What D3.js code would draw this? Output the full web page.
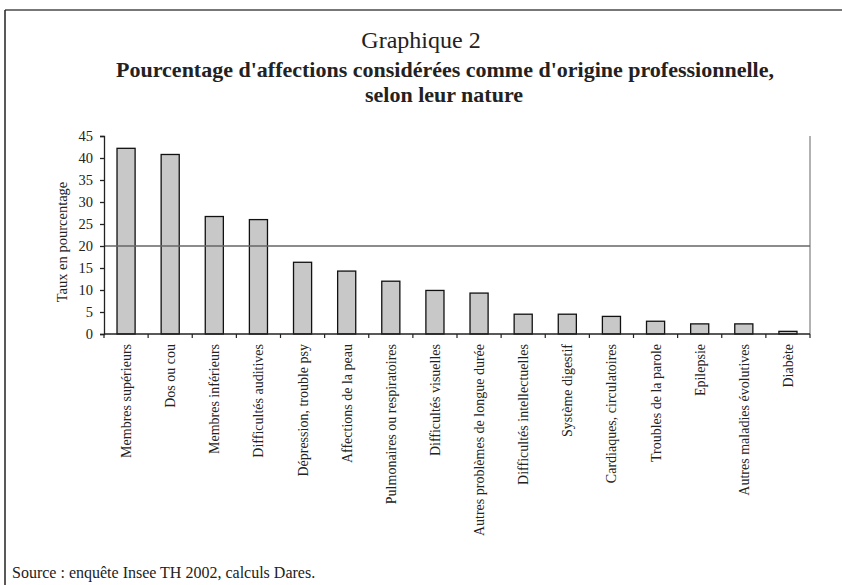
<html lang='en'>
    <head>
        <meta charset='utf-8'>
        <title>Graphique 2</title>
        <script src="https://d3js.org/d3.v7.min.js"></script>
        <style>
            body { margin: 0; background: #fff; }
            text { font-family: 'Liberation Serif', 'Times New Roman', serif; fill: #222; }
        </style>
    </head>
    <body>
        <script>
            var width = 842;
            var height = 585;

            // data
            var categories = ["Membres supérieurs", "Dos ou cou", "Membres inférieurs", "Difficultés auditives",
                              "Dépression, trouble psy", "Affections de la peau", "Pulmonaires ou respiratoires",
                              "Difficultés visuelles", "Autres problèmes de longue durée", "Difficultés intellectuelles",
                              "Système digestif", "Cardiaques, circulatoires", "Troubles de la parole", "Epilepsie",
                              "Autres maladies évolutives", "Diabète"];
            var rates = [42.2, 40.8, 26.7, 26.0, 16.3, 14.3, 12.0, 9.9, 9.3, 4.5, 4.5, 4.0, 2.9, 2.3, 2.3, 0.6];
            var yTicks = [0, 5, 10, 15, 20, 25, 30, 35, 40, 45];
            var refLine = 20;

            var margin = {top: 136, left: 104, right: 32, bottom: 251};

            var svg = d3.select('body')
                        .append('svg')
                        .attr('width', width)
                        .attr('height', height);

            // frame (top and left only)
            svg.append('line')
               .attr('x1', 5).attr('x2', width).attr('y1', 10).attr('y2', 10)
               .attr('stroke', '#777').attr('stroke-width', 2);
            svg.append('line')
               .attr('x1', 5).attr('x2', 5).attr('y1', 10).attr('y2', height)
               .attr('stroke', '#222').attr('stroke-width', 1.5);

            // titles
            svg.append('text')
               .attr('x', 421).attr('y', 48)
               .attr('text-anchor', 'middle')
               .style('font-size', '24px')
               .text('Graphique 2');
            svg.append('text')
               .attr('x', 445).attr('y', 77)
               .attr('text-anchor', 'middle')
               .style('font-size', '22px').style('font-weight', 'bold')
               .text("Pourcentage d'affections considérées comme d'origine professionnelle,");
            svg.append('text')
               .attr('x', 444).attr('y', 102)
               .attr('text-anchor', 'middle')
               .style('font-size', '22px').style('font-weight', 'bold')
               .text('selon leur nature');

            var x = d3.scaleBand()
                      .domain(categories)
                      .range([margin.left, width - margin.right])
                      .paddingInner(0.59)
                      .paddingOuter(0.295);

            var y = d3.scaleLinear()
                      .domain([0, 45])
                      .range([height - margin.bottom, margin.top]);

            // right border of the plot area
            svg.append('line')
               .attr('x1', width - margin.right).attr('x2', width - margin.right)
               .attr('y1', y(45)).attr('y2', y(0))
               .attr('stroke', '#999').attr('stroke-width', 1.5);

            // bars
            svg.selectAll('rect.bar')
               .data(rates)
               .enter()
               .append('rect')
               .attr('class', 'bar')
               .attr('x', function(d, i) { return x(categories[i]); })
               .attr('width', x.bandwidth())
               .attr('y', function(d) { return y(d); })
               .attr('height', function(d) { return y(0) - y(d); })
               .attr('fill', '#c8c8c8')
               .attr('stroke', '#111')
               .attr('stroke-width', 1.3);

            // 20% reference line
            svg.append('line')
               .attr('x1', margin.left).attr('x2', width - margin.right)
               .attr('y1', y(refLine)).attr('y2', y(refLine))
               .attr('stroke', '#666').attr('stroke-width', 1.5);

            // y axis
            var yAxis = svg.append('g')
                           .attr('transform', 'translate(' + margin.left + ',0)')
                           .call(d3.axisLeft(y).tickValues(yTicks).tickSize(4).tickPadding(7));
            yAxis.selectAll('text').style('font-size', '14.5px').style('font-family', "'Liberation Serif', serif");
            yAxis.selectAll('line, path').attr('stroke', '#222').attr('stroke-width', 1.3);

            // x axis with ticks on band boundaries
            var step = x.step();
            var boundaries = d3.range(categories.length + 1).map(function(i) { return margin.left + i * step; });
            svg.append('line')
               .attr('x1', margin.left).attr('x2', width - margin.right)
               .attr('y1', y(0)).attr('y2', y(0))
               .attr('stroke', '#222').attr('stroke-width', 1.5);
            svg.selectAll('line.xtick')
               .data(boundaries)
               .enter()
               .append('line')
               .attr('class', 'xtick')
               .attr('x1', function(d) { return d; }).attr('x2', function(d) { return d; })
               .attr('y1', y(0)).attr('y2', y(0) + 4)
               .attr('stroke', '#222').attr('stroke-width', 1.2);

            svg.selectAll('text.xlabel')
               .data(categories)
               .enter()
               .append('text')
               .attr('class', 'xlabel')
               .attr('transform', function(d) {
                   return 'translate(' + (x(d) + x.bandwidth() / 2 + 5) + ',' + (y(0) + 10) + ') rotate(-90)';
               })
               .attr('text-anchor', 'end')
               .style('font-size', '14px')
               .text(function(d) { return d; });

            // y axis title
            svg.append('text')
               .attr('transform', 'translate(67,242) rotate(-90)')
               .attr('text-anchor', 'middle')
               .style('font-size', '14.5px')
               .text('Taux en pourcentage');

            // source
            svg.append('text')
               .attr('x', 12).attr('y', 578)
               .style('font-size', '16px')
               .text('Source : enquête Insee TH 2002, calculs Dares.');
        </script>
    </body>
</html>
